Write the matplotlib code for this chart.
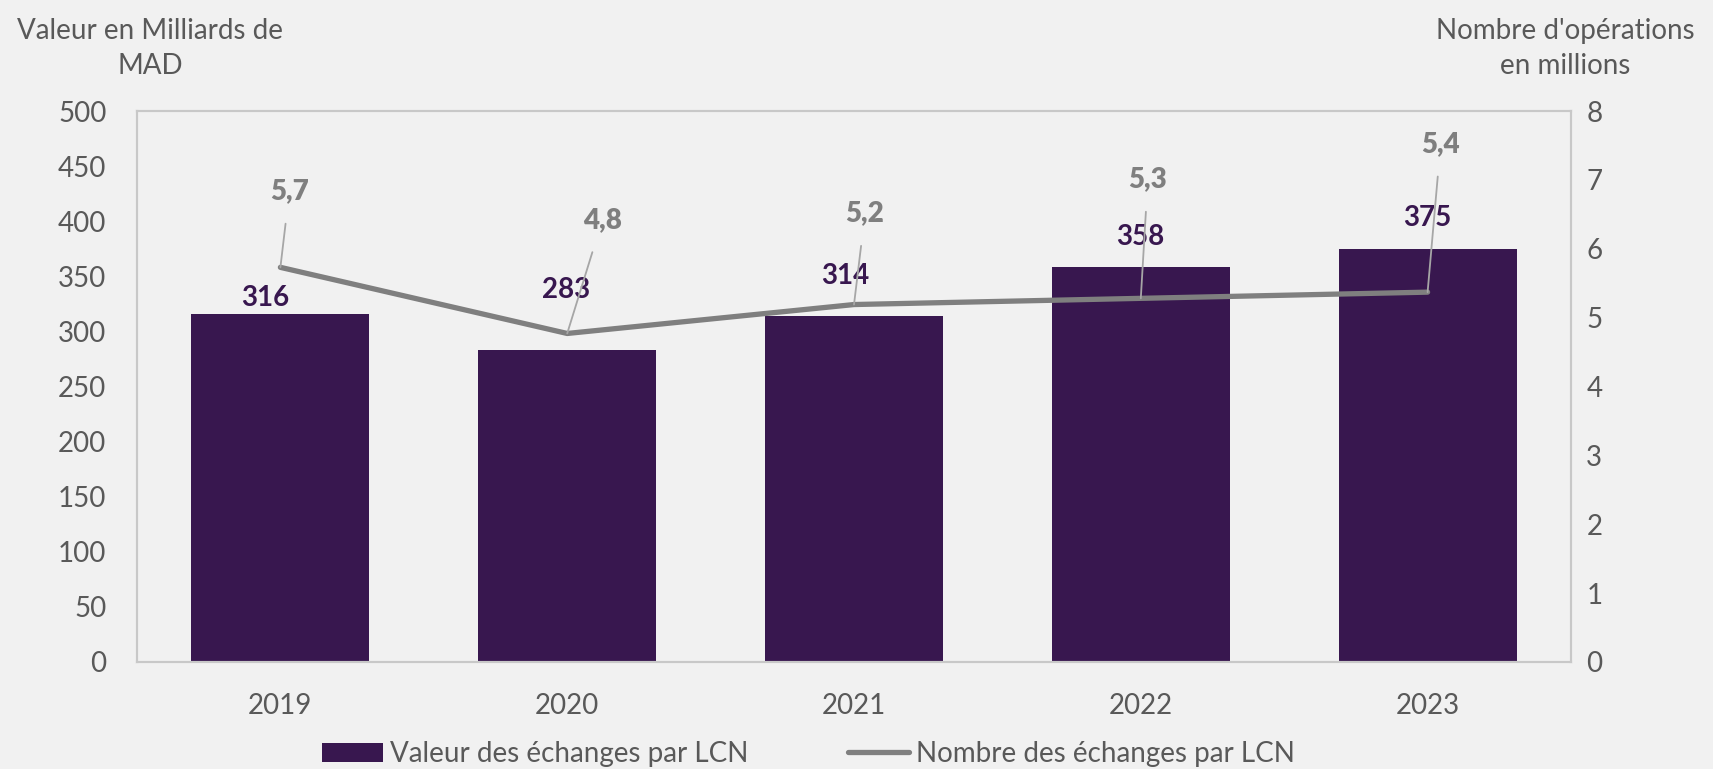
import matplotlib.pyplot as plt
import numpy as np

# data
years = ["2019", "2020", "2021", "2022", "2023"]
valeur = [316, 283, 314, 358, 375]          # milliards de MAD
nombre = [5.73, 4.77, 5.19, 5.28, 5.37]     # millions d'operations
nombre_labels = ["5,7", "4,8", "5,2", "5,3", "5,4"]

# label offsets (pixels) relative to the bar top / line point
bar_offsets = [(-15, 16), (-1, 60), (-9, 40), (-1, 30), (0, 31)]
line_offsets = [(9, 76), (35, 113), (11, 91), (7, 119), (13, 148)]

bg = "#F1F1F1"
purple = "#38174F"
grey_line = "#7F7F7F"
txt = "#595959"

plt.rcParams['font.family'] = ['Lato', 'DejaVu Sans']

fig = plt.figure(figsize=(17.13, 7.69), dpi=100, facecolor=bg)
ax = fig.add_axes([137/1713, 1-662/769, (1571-137)/1713, (662-111)/769])
ax.set_facecolor(bg)

x = np.arange(len(years))
bars = ax.bar(x, valeur, width=0.62, color=purple, label="Valeur des échanges par LCN", zorder=2)
ax.set_ylim(0, 500)
ax.set_xlim(-0.5, len(years) - 0.5)
ax.set_yticks(range(0, 501, 50))
ax.set_xticks(x)
ax.set_xticklabels(years)
ax.tick_params(axis='y', length=0, pad=22, labelsize=20, labelcolor=txt)
ax.tick_params(axis='x', length=0, pad=22, labelsize=20, labelcolor=txt)

ax2 = ax.twinx()
line, = ax2.plot(x, nombre, color=grey_line, lw=3.8, label="Nombre des échanges par LCN", zorder=3,
                 solid_capstyle='round')
ax2.set_ylim(0, 8)
ax2.set_yticks(range(0, 9))
ax2.tick_params(axis='y', length=0, pad=11, labelsize=20, labelcolor=txt)

for a in (ax, ax2):
    for s in a.spines.values():
        s.set_color("#C8C8C8")
        s.set_linewidth(1.5)

for i, v in enumerate(valeur):
    dx, dy = bar_offsets[i]
    ax.annotate(str(v), (x[i], v), xytext=(dx, dy), textcoords='offset pixels',
                ha='center', va='center', fontsize=20, fontweight='bold', color=purple, zorder=4)

for i, v in enumerate(nombre):
    dx, dy = line_offsets[i]
    ax2.annotate(nombre_labels[i], (x[i], v), xytext=(dx, dy), textcoords='offset pixels',
                 ha='center', va='center', fontsize=20, fontweight='heavy', color=grey_line,
                 arrowprops=dict(arrowstyle='-', color="#A6A6A6", lw=1.3, shrinkA=12, shrinkB=0))

fig.text(150/1713, 1-18/769, "Valeur en Milliards de\nMAD", ha='center', va='top',
         fontsize=20, color=txt, linespacing=1.45)
fig.text(1565/1713, 1-18/769, "Nombre d'opérations\nen millions", ha='center', va='top',
         fontsize=20, color=txt, linespacing=1.45)

fig.legend(handles=[bars, line], loc='center', bbox_to_anchor=(0.472, 1-754/769), ncol=2,
           frameon=False, fontsize=20, labelcolor=txt, handlelength=2.2, handletextpad=0.25,
           columnspacing=3.6)

fig.savefig("out.png", dpi=100, facecolor=bg)
